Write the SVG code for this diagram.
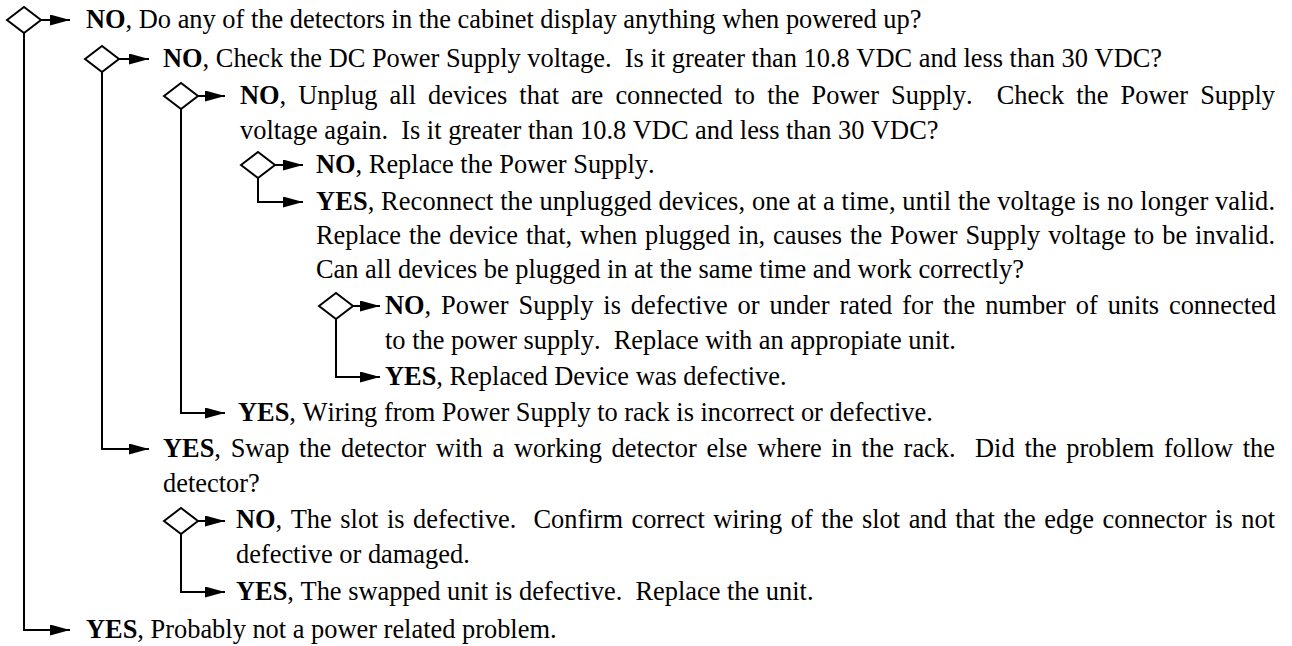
<svg xmlns="http://www.w3.org/2000/svg" width="1292" height="646" viewBox="0 0 1292 646">
<style>
text{font-family:"Liberation Serif","Times New Roman",serif;font-size:26.4px;fill:#000;white-space:pre;font-kerning:none}
.b{font-weight:bold}
.c{fill:none;stroke:#000;stroke-width:2}
.d{fill:#fff;stroke:#000;stroke-width:2}
</style>
<defs>
<marker id="ah" markerUnits="userSpaceOnUse" viewBox="0 0 20 11" refX="20" refY="5.5" markerWidth="20" markerHeight="11" orient="auto"><path d="M0,0 L20,5.5 L0,11 z" fill="#000"/></marker>
</defs>
<rect width="1292" height="646" fill="#fff"/>
<g id="connectors">
<path class="c" d="M41,20 H70" marker-end="url(#ah)"/>
<path class="c" d="M24,33 V630 H70" marker-end="url(#ah)"/>
<path class="c" d="M119,59 H149" marker-end="url(#ah)"/>
<path class="c" d="M102,72 V449 H149" marker-end="url(#ah)"/>
<path class="c" d="M198,96 H225" marker-end="url(#ah)"/>
<path class="c" d="M181,109 V413 H225" marker-end="url(#ah)"/>
<path class="c" d="M275,165 H303" marker-end="url(#ah)"/>
<path class="c" d="M258,178 V202 H303" marker-end="url(#ah)"/>
<path class="c" d="M353,306 H380" marker-end="url(#ah)"/>
<path class="c" d="M336,319 V377 H380" marker-end="url(#ah)"/>
<path class="c" d="M198,521 H225" marker-end="url(#ah)"/>
<path class="c" d="M181,534 V592 H225" marker-end="url(#ah)"/>
</g>
<g id="d0"><path class="d" d="M7,20 L24,7 L41,20 L24,33 z"/></g>
<g id="d1"><path class="d" d="M85,59 L102,46 L119,59 L102,72 z"/></g>
<g id="d2"><path class="d" d="M164,96 L181,83 L198,96 L181,109 z"/></g>
<g id="d3"><path class="d" d="M241,165 L258,152 L275,165 L258,178 z"/></g>
<g id="d4"><path class="d" d="M319,306 L336,293 L353,306 L336,319 z"/></g>
<g id="d5"><path class="d" d="M164,521 L181,508 L198,521 L181,534 z"/></g>

<g id="t1"><text x="86" y="28"><tspan class="b">NO</tspan>, Do any of the detectors in the cabinet display anything when powered up?</text></g>
<g id="t2"><text x="163" y="67"><tspan class="b">NO</tspan>, Check the DC Power Supply voltage.  Is it greater than 10.8 VDC and less than 30 VDC?</text></g>
<g id="t3">
<text x="240" y="104" word-spacing="5.5" textLength="1035" lengthAdjust="spacing"><tspan class="b">NO</tspan>, Unplug all devices that are connected to the Power Supply.  Check the Power Supply</text>
<text x="240" y="139">voltage again.  Is it greater than 10.8 VDC and less than 30 VDC?</text>
</g>
<g id="t4"><text x="316" y="173"><tspan class="b">NO</tspan>, Replace the Power Supply.</text></g>
<g id="t5">
<text x="316" y="210" textLength="959" lengthAdjust="spacing"><tspan class="b">YES</tspan>, Reconnect the unplugged devices, one at a time, until the voltage is no longer valid.</text>
<text x="316" y="244" word-spacing="1.3" textLength="959" lengthAdjust="spacing">Replace the device that, when plugged in, causes the Power Supply voltage to be invalid.</text>
<text x="316" y="278">Can all devices be plugged in at the same time and work correctly?</text>
</g>
<g id="t6">
<text x="385" y="314" word-spacing="3.3" textLength="891" lengthAdjust="spacing"><tspan class="b">NO</tspan>, Power Supply is defective or under rated for the number of units connected</text>
<text x="385" y="349">to the power supply.  Replace with an appropiate unit.</text>
</g>
<g id="t7"><text x="385" y="385"><tspan class="b">YES</tspan>, Replaced Device was defective.</text></g>
<g id="t8"><text x="238" y="421"><tspan class="b">YES</tspan>, Wiring from Power Supply to rack is incorrect or defective.</text></g>
<g id="t9">
<text x="163" y="457" word-spacing="3.1" textLength="1112" lengthAdjust="spacing"><tspan class="b">YES</tspan>, Swap the detector with a working detector else where in the rack.  Did the problem follow the</text>
<text x="163" y="492">detector?</text>
</g>
<g id="t10">
<text x="236" y="528" word-spacing="1.9" textLength="1039" lengthAdjust="spacing"><tspan class="b">NO</tspan>, The slot is defective.  Confirm correct wiring of the slot and that the edge connector is not</text>
<text x="236" y="563">defective or damaged.</text>
</g>
<g id="t11"><text x="236" y="600"><tspan class="b">YES</tspan>, The swapped unit is defective.  Replace the unit.</text></g>
<g id="t12"><text x="86" y="638"><tspan class="b">YES</tspan>, Probably not a power related problem.</text></g>
</svg>
